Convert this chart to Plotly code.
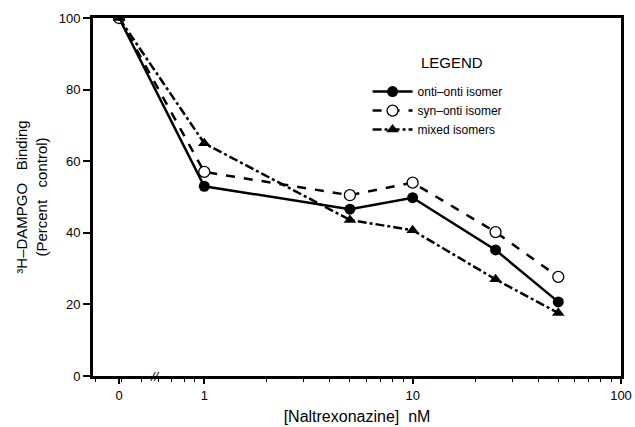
import plotly.graph_objects as go

# Data
conc_nM = [0, 1, 5, 10, 25, 50]
anti_anti = [100, 53, 46.6, 49.8, 35.2, 20.7]
syn_anti = [100, 57, 50.5, 54, 40.2, 27.7]
mixed = [100, 65, 43.6, 40.7, 27, 17.6]

x_ticklabels = ["0", "1", "10", "100"]
x_tickconc = [0, 1, 10, 100]
y_ticks = [0, 20, 40, 60, 80, 100]

ZERO_POS = 0.39  # position on the broken log axis used for the "0" concentration

def pos(c):
    return ZERO_POS if c == 0 else c

xs = [pos(c) for c in conc_nM]

fig = go.Figure()
fig.add_trace(go.Scatter(
    x=xs, y=anti_anti, name="onti\u2013onti isomer", mode="lines+markers",
    line=dict(color="black", width=2.5, dash="solid"),
    marker=dict(symbol="circle", size=11, color="black")))
fig.add_trace(go.Scatter(
    x=xs, y=syn_anti, name="syn\u2013onti isomer", mode="lines+markers",
    line=dict(color="black", width=2.5, dash="dash"),
    marker=dict(symbol="circle", size=11, color="white", line=dict(width=1.3, color="black"))))
fig.add_trace(go.Scatter(
    x=xs, y=mixed, name="mixed isomers", mode="lines+markers",
    line=dict(color="black", width=2.5, dash="dashdot"),
    marker=dict(symbol="triangle-up", size=11, color="black")))

fig.update_layout(
    width=635, height=427,
    margin=dict(l=93, r=14, t=18, b=51),
    plot_bgcolor="white", paper_bgcolor="white",
    font=dict(family="Liberation Sans, Arial, sans-serif", color="black", size=13),
    showlegend=True,
    legend=dict(
        x=0.52, y=0.835, xanchor="left", yanchor="top",
        bgcolor="rgba(0,0,0,0)",
        font=dict(size=12),
        itemwidth=40, tracegroupgap=0,
    ),
    xaxis=dict(
        type="log", range=[-0.534, 2.0], automargin=False,
        tickmode="array",
        tickvals=[pos(c) for c in x_tickconc], ticktext=x_ticklabels,
        ticks="outside", ticklen=5, tickwidth=1.5, tickcolor="black",
        showline=True, linecolor="black", linewidth=3, mirror=True,
        showgrid=False, zeroline=False,
        minor=dict(dtick="D1", ticks="outside",
                   ticklen=3, tickwidth=1, tickcolor="black", showgrid=False),
        title=dict(text="[Naltrexonazine]  nM", font=dict(size=16), standoff=10),
    ),
    yaxis=dict(
        range=[0, 100], tickmode="array", tickvals=y_ticks, automargin=False,
        ticks="outside", ticklen=7, tickwidth=1.5, tickcolor="black",
        showline=True, linecolor="black", linewidth=3, mirror=True,
        showgrid=False, zeroline=False,
        title=dict(text="\u00b3H\u2013DAMPGO   Binding<br>(Percent   control)",
                   font=dict(size=15), standoff=8),
    ),
)

# legend heading
fig.add_annotation(x=0.68, y=0.877, xref="paper", yref="paper",
                   text="LEGEND", showarrow=False, xanchor="center", yanchor="middle",
                   font=dict(size=15, color="black"))

# axis break mark
fig.add_annotation(x=0.104, y=0, xref="paper", yref="paper",
                   text="<i>//</i>", showarrow=False, yanchor="middle",
                   font=dict(size=13, color="black"))

fig.write_html("out.html", config={"displayModeBar": False},
               post_script="document.body.style.margin='0px';document.body.style.overflow='hidden';")
